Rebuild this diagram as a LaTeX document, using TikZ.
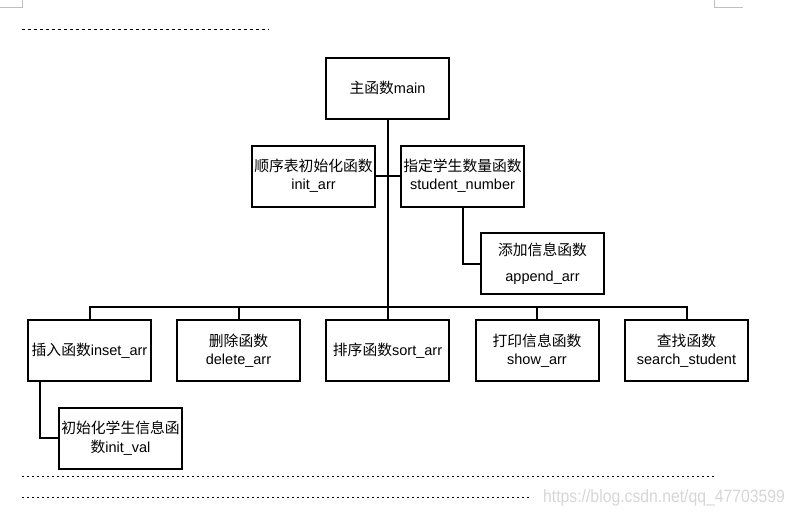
\documentclass[tikz,border=0pt]{standalone}
\usepackage{fontspec}
\setmainfont{Noto Sans CJK SC}
\newfontfamily\wmfont{Liberation Sans}
\newfontfamily\lat[Scale=0.98]{Liberation Sans}
\newcommand{\lt}[1]{{\lat #1}}
\begin{document}
\begin{tikzpicture}[x=1pt,y=-1pt,
  box/.style={draw=black, line width=2pt, minimum width=123pt, minimum height=61pt, inner sep=0pt, align=center, font=\fontsize{14.8}{18}\selectfont},
  conn/.style={draw=black, line width=2pt},
  cornermark/.style={draw=black!25, line width=1pt},
  topdash/.style={draw=black, line width=1pt, dash pattern=on 3pt off 3pt},
  botdot/.style={draw=black, line width=1pt, dash pattern=on 2pt off 3pt}]
\useasboundingbox (0,0) rectangle (795,515);
% page corner marks
\draw[cornermark] (0,7) -- (22,7) -- (22,0);
\draw[cornermark] (714,0) -- (714,7) -- (743,7);
% dotted lines
\coordinate (t1) at (22,29); \coordinate (t2) at (269,29);
\draw[topdash] (t1) -- (t2);
\coordinate (b1) at (22,476); \coordinate (b2) at (714,476);
\draw[botdot] (b1) -- (b2);
\coordinate (c1) at (22,497); \coordinate (c2) at (529,497);
\draw[botdot] (c1) -- (c2);
\node[text=black!16, font=\wmfont\fontsize{17.8}{20}\selectfont, inner sep=0pt, anchor=west] (wm) at (543,498) {\scalebox{0.885}[1]{https://blog.csdn.net/qq\_47703599}};
% nodes
\node[box] (main) at (387.5,88) {主函数\lt{main}};
\node[box] (init) at (313.5,176) {顺序表初始化函数\\\lt{init\_arr}};
\node[box] (sn) at (462.5,176) {指定学生数量函数\\\lt{student\_number}};
\node[box, font=\fontsize{14.8}{26}\selectfont] (app) at (542.5,263.5) {添加信息函数\\\lt{append\_arr}};
\node[box] (ins) at (89.5,350.5) {插入函数\lt{inset\_arr}};
\node[box] (del) at (238.5,350.5) {删除函数\\\lt{delete\_arr}};
\node[box] (sort) at (387.5,350.5) {排序函数\lt{sort\_arr}};
\node[box] (show) at (537,350.5) {打印信息函数\\\lt{show\_arr}};
\node[box] (search) at (686.5,350.5) {查找函数\\\lt{search\_student}};
\node[box, font=\fontsize{14.8}{19}\selectfont] (iv) at (120.5,438) {初始化学生信息函\\数\lt{init\_val}};
% connectors
\coordinate (bus) at (387.5,307);
\draw[conn] (main.south) -- (sort.north);
\draw[conn] (init.east) -- (sn.west);
\draw[conn] (sn.south) |- (app.west);
\draw[conn] (ins.north) |- (bus) -| (search.north);
\draw[conn] (del.north) -- (del.north |- bus);
\draw[conn] (show.north) -- (show.north |- bus);
\draw[conn] ([xshift=-49.5pt]ins.south) |- (iv.west);
\end{tikzpicture}
\end{document}
